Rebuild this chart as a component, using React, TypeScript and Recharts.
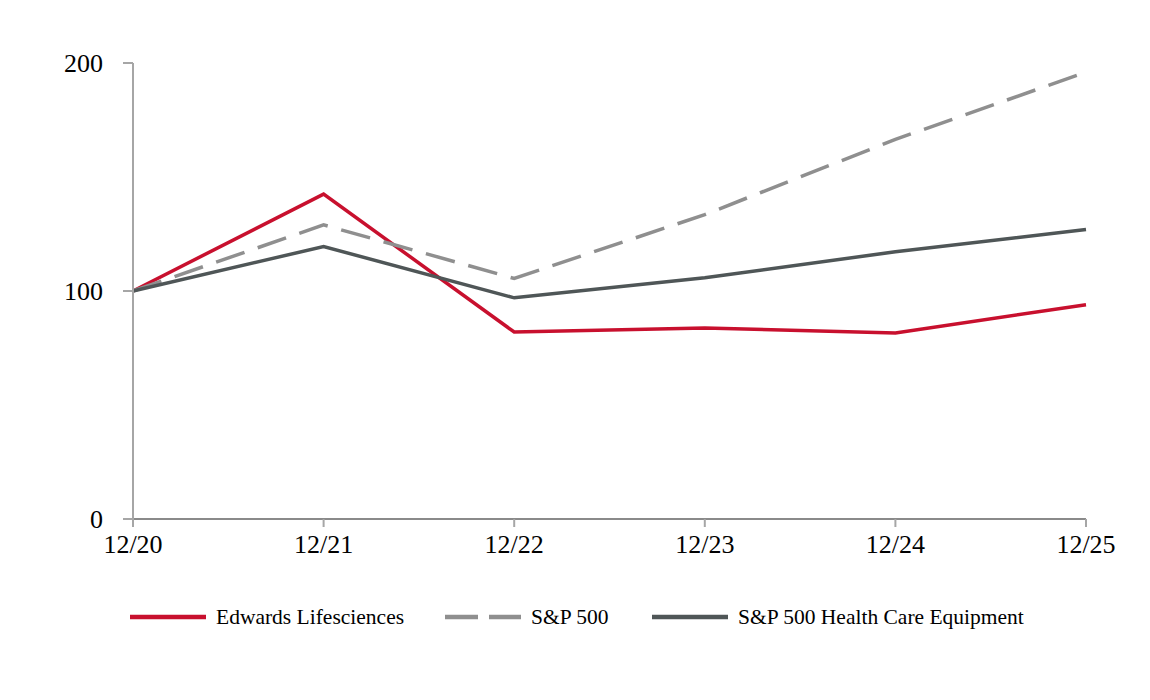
import { LineChart, Line, XAxis, YAxis } from "recharts"

const years = ["12/20", "12/21", "12/22", "12/23", "12/24", "12/25"]
const edwards = [100, 142.5, 82, 83.8, 81.6, 94]
const sp500 = [100, 129, 105.5, 133.5, 166.5, 196]
const healthCare = [100, 119.5, 97, 105.8, 117.2, 127]
const yTicks = [0, 100, 200]

const series = [
  { key: "edwards", name: "Edwards Lifesciences", color: "#c8102e", dash: undefined, legendX: 122 },
  { key: "sp500", name: "S&P 500", color: "#8f8f8f", dash: "30 14", legendX: 437 },
  { key: "healthCare", name: "S&P 500 Health Care Equipment", color: "#4f5657", dash: undefined, legendX: 644 },
]

const data = years.map((year, i) => ({
  year,
  edwards: edwards[i],
  sp500: sp500[i],
  healthCare: healthCare[i],
}))

const font = "'Liberation Serif', 'Times New Roman', serif"

export default function App() {
  return (
    <div style={{ position: "relative", width: 1134, height: 680, fontFamily: font }}>
      <LineChart width={1134} height={680} data={data} margin={{ top: 55, right: 56, left: 0, bottom: 129 }}>
        <XAxis
          dataKey="year"
          height={40}
          axisLine={{ stroke: "#8a8a8a", strokeWidth: 2 }}
          tickLine={{ stroke: "#a6a6a6", strokeWidth: 2 }}
          tickSize={8}
          tickMargin={8}
          tick={{ fill: "#000", fontSize: 26, fontFamily: font }}
          interval={0}
        />
        <YAxis
          domain={[0, 200]}
          ticks={yTicks}
          width={125}
          axisLine={{ stroke: "#a6a6a6", strokeWidth: 2 }}
          tickLine={{ stroke: "#a6a6a6", strokeWidth: 2 }}
          tickSize={10}
          tickMargin={20}
          tick={{ fill: "#000", fontSize: 26, fontFamily: font }}
        />
        {series.map((s) => (
          <Line
            key={s.key}
            type="linear"
            dataKey={s.key}
            name={s.name}
            stroke={s.color}
            strokeWidth={3.5}
            strokeDasharray={s.dash}
            dot={false}
            activeDot={false}
            isAnimationActive={false}
          />
        ))}
      </LineChart>
      {series.map((s) => (
        <div
          key={s.key}
          style={{ position: "absolute", left: s.legendX, top: 595, display: "flex", alignItems: "center", height: 28 }}
        >
          <svg width={76} height={8}>
            <line x1={0} y1={4} x2={76} y2={4} stroke={s.color} strokeWidth={4.5} strokeDasharray={s.dash ? "33 11" : undefined} />
          </svg>
          <span style={{ marginLeft: 10, fontSize: 21.5, color: "#000", whiteSpace: "nowrap" }}>{s.name}</span>
        </div>
      ))}
    </div>
  )
}
